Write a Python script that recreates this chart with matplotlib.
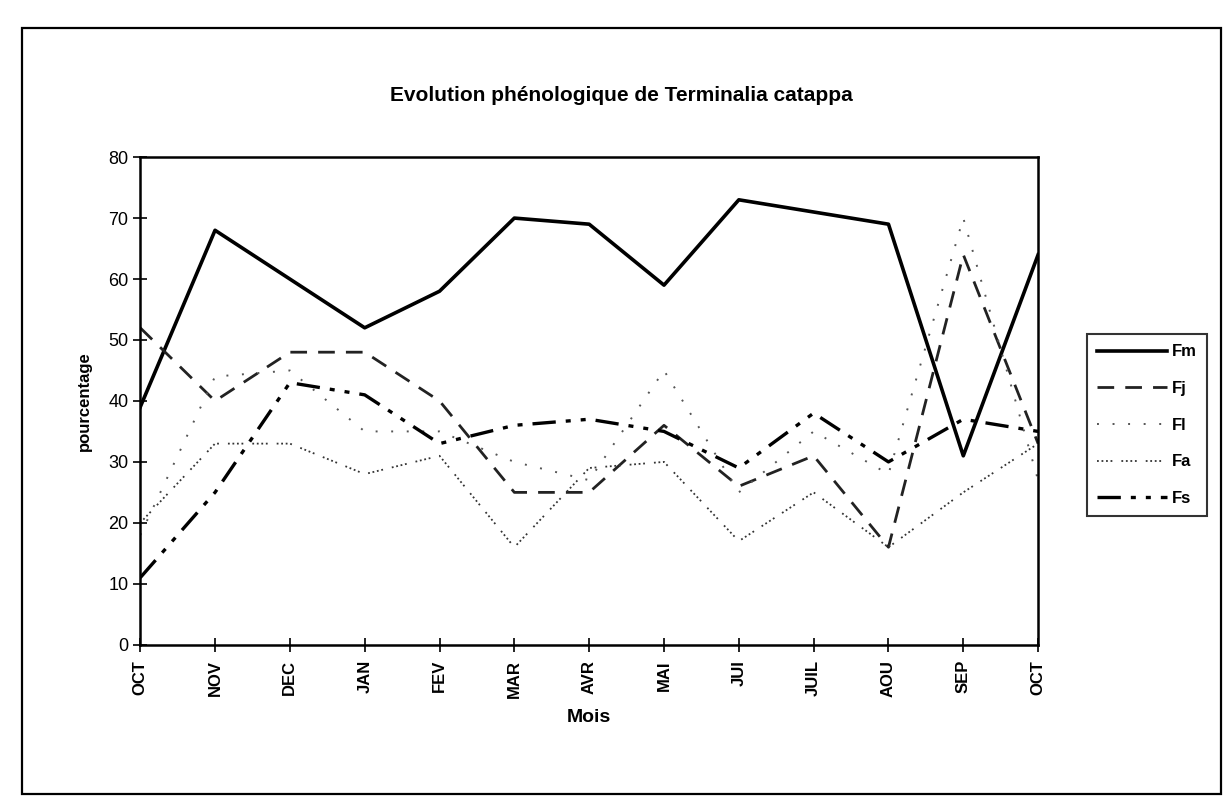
import matplotlib
matplotlib.use("Agg")
import matplotlib.pyplot as plt
from matplotlib.patches import Rectangle

months = ['OCT', 'NOV', 'DEC', 'JAN', 'FEV', 'MAR', 'AVR', 'MAI', 'JUI', 'JUIL', 'AOU', 'SEP', 'OCT']
Fm = [39, 68, 60, 52, 58, 70, 69, 59, 73, 71, 69, 31, 64]
Fj = [52, 40, 48, 48, 40, 25, 25, 36, 26, 31, 16, 64, 33]
Fl = [18, 44, 45, 35, 35, 30, 27, 45, 25, 35, 28, 70, 27]
Fa = [20, 33, 33, 28, 31, 16, 29, 30, 17, 25, 16, 25, 33]
Fs = [11, 25, 43, 41, 33, 36, 37, 35, 29, 38, 30, 37, 35]
yticks = [0, 10, 20, 30, 40, 50, 60, 70, 80]

plt.rcParams['font.family'] = ['Liberation Sans', 'DejaVu Sans']

fig = plt.figure(figsize=(12.3, 8.1), dpi=100)
ax = fig.add_axes([0.114, 0.204, 0.730, 0.602])

x = list(range(len(months)))
ax.plot(x, Fm, color='black', lw=2.6, ls='-', label='Fm')
ax.plot(x, Fj, color='#222222', lw=2.0, ls=(0, (6, 4)), label='Fj')
ax.plot(x, Fl, color='#555555', lw=1.4, ls=(0, (1, 7)), label='Fl')
ax.plot(x, Fa, color='#333333', lw=1.3, ls=(0, (1, 1.5, 1, 1.5, 1, 1.5, 1, 5)), label='Fa')
ax.plot(x, Fs, color='black', lw=2.4, ls=(0, (7, 3, 1.5, 3, 1.5, 3)), label='Fs')

ax.set_xlim(0, len(months) - 1)
ax.set_ylim(0, 80)
ax.set_yticks(yticks)
ax.set_xticks(x)
ax.set_xticklabels(months, rotation=90, fontsize=12, fontweight='bold')
ax.tick_params(axis='y', labelsize=13, direction='inout', length=10, width=1.2)
ax.tick_params(axis='x', direction='inout', length=10, width=1.2, pad=6)
for s in ax.spines.values():
    s.set_linewidth(1.8)
    s.set_color('black')

ax.set_xlabel('Mois', fontsize=14, fontweight='bold', labelpad=8)
ax.set_ylabel('pourcentage', fontsize=12, fontweight='bold', labelpad=12)

fig.text(0.505, 0.882, 'Evolution phénologique de Terminalia catappa',
         ha='center', va='center', fontsize=15, fontweight='bold')

leg = ax.legend(loc='center left', bbox_to_anchor=(1.045, 0.45), frameon=True,
                fancybox=False, fontsize=12, handlelength=4.2, handletextpad=0.3,
                labelspacing=1.3, borderpad=0.6, edgecolor='black')
leg.get_frame().set_linewidth(1.5)
for t in leg.get_texts():
    t.set_fontweight('bold')

fig.patches.append(Rectangle((0.018, 0.02), 0.975, 0.945, transform=fig.transFigure,
                             fill=False, edgecolor='black', lw=1.6))

fig.savefig('out.png', dpi=100)
